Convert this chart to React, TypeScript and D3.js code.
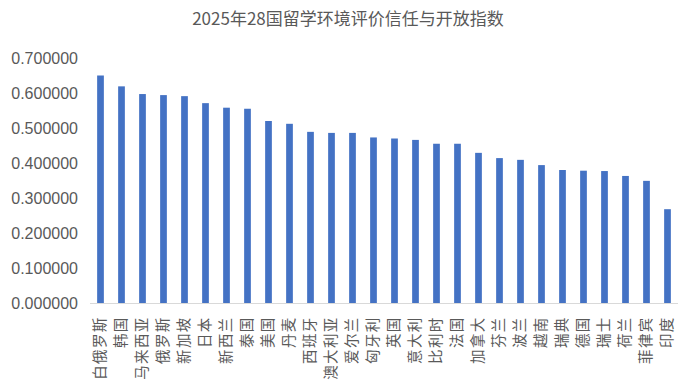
import React, { useEffect, useRef } from "react";
import * as d3 from "d3";

const countries = [
  "白俄罗斯", "韩国", "马来西亚", "俄罗斯", "新加坡", "日本", "新西兰", "泰国",
  "美国", "丹麦", "西班牙", "澳大利亚", "爱尔兰", "匈牙利", "英国", "意大利",
  "比利时", "法国", "加拿大", "芬兰", "波兰", "越南", "瑞典", "德国",
  "瑞士", "荷兰", "菲律宾", "印度",
];
const scores = [
  0.650, 0.619, 0.597, 0.594, 0.591, 0.571, 0.558, 0.555,
  0.520, 0.512, 0.489, 0.486, 0.486, 0.473, 0.470, 0.466,
  0.455, 0.455, 0.429, 0.414, 0.409, 0.394, 0.380, 0.378,
  0.377, 0.363, 0.349, 0.268,
];
const yTicks = [0, 0.1, 0.2, 0.3, 0.4, 0.5, 0.6, 0.7];
const title = "2025年28国留学环境评价信任与开放指数";

const W = 689, H = 390;
const margin = { top: 58, right: 11, bottom: 87, left: 90 };

const App = () => {
  const ref = useRef(null);

  useEffect(() => {
    const svg = d3.select(ref.current);
    svg.selectAll("*").remove();

    const x = d3.scaleBand()
      .domain(countries)
      .range([margin.left, W - margin.right])
      .paddingInner(0.68)
      .paddingOuter(0.34);
    const y = d3.scaleLinear()
      .domain([0, 0.7])
      .range([H - margin.bottom, margin.top]);
    const fmt = d3.format(".6f");

    svg.append("text")
      .attr("x", 348)
      .attr("y", 25)
      .attr("text-anchor", "middle")
      .style("font-family", "'Noto Sans CJK SC', sans-serif")
      .style("font-size", "17px")
      .style("fill", "#595959")
      .text(title);

    // y labels, no gridlines
    svg.append("g")
      .selectAll("text")
      .data(yTicks)
      .join("text")
      .attr("x", 78)
      .attr("y", d => y(d))
      .attr("dy", "0.35em")
      .attr("text-anchor", "end")
      .style("font-family", "'Liberation Sans', Arial, sans-serif")
      .style("font-size", "16px")
      .style("fill", "#595959")
      .text(d => fmt(d));

    svg.append("g")
      .selectAll("rect")
      .data(scores)
      .join("rect")
      .attr("x", (d, i) => x(countries[i]))
      .attr("y", d => y(d))
      .attr("width", x.bandwidth())
      .attr("height", d => y(0) - y(d))
      .attr("fill", "#4472C4");

    svg.append("line")
      .attr("x1", margin.left)
      .attr("x2", W - margin.right)
      .attr("y1", y(0) + 0.5)
      .attr("y2", y(0) + 0.5)
      .attr("stroke", "#D9D9D9")
      .attr("stroke-width", 1);

    svg.append("g")
      .selectAll("text")
      .data(countries)
      .join("text")
      .attr("transform", d => `translate(${x(d) + x.bandwidth() / 2 - 1},316.5) rotate(-90)`)
      .attr("dy", "0.35em")
      .attr("text-anchor", "end")
      .style("font-family", "'Noto Sans CJK SC', sans-serif")
      .style("font-size", "14.5px")
      .style("letter-spacing", "1.3px")
      .style("fill", "#595959")
      .text(d => d);
  }, []);

  return (
    <svg ref={ref} width={W} height={H}
      style={{ position: "absolute", left: 0, top: 0, background: "#fff" }} />
  );
};

export default App;
